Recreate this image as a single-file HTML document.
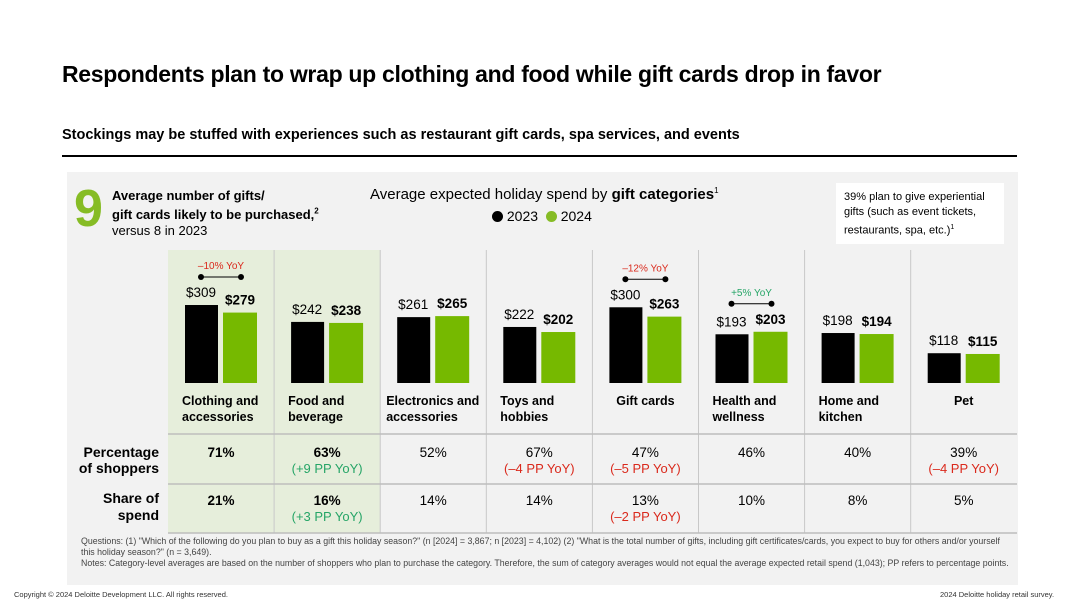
<!DOCTYPE html>
<html><head><meta charset="utf-8"><style>
body{margin:0;width:1080px;height:608px;background:#fff;font-family:"Liberation Sans",sans-serif;position:relative;overflow:hidden;color:#000}
.a{position:absolute;white-space:nowrap}
</style></head><body>
<div class="a" style="left:62px;top:61px;font-size:23px;font-weight:bold;letter-spacing:-0.3px">Respondents plan to wrap up clothing and food while gift cards drop in favor</div>
<div class="a" style="left:62px;top:127px;font-size:14.5px;font-weight:bold">Stockings may be stuffed with experiences such as restaurant gift cards, spa services, and events</div>
<div class="a" style="left:62px;top:155px;width:955px;height:2px;background:#000"></div>
<div class="a" style="left:67px;top:172px;width:951px;height:413px;background:#f2f2f2"></div>
<div class="a" style="left:74px;top:183px;font-size:52px;font-weight:900;color:#86bc25;line-height:52px">9</div>
<div class="a" style="left:112px;top:188px;font-size:13px;line-height:16px"><b>Average number of gifts/<br>gift cards likely to be purchased,<sup style="font-size:8px">2</sup></b><br>versus 8 in 2023</div>
<div class="a" style="left:370px;top:186px;font-size:15px">Average expected holiday spend by <b>gift categories</b><sup style="font-size:8px">1</sup></div>
<div class="a" style="left:492px;top:208px;font-size:14px"><span style="display:inline-block;width:11px;height:11px;border-radius:50%;background:#000;vertical-align:-1px"></span> 2023 &nbsp;<span style="display:inline-block;width:11px;height:11px;border-radius:50%;background:#86bc25;vertical-align:-1px"></span> 2024</div>
<div class="a" style="left:836px;top:183px;width:160px;height:54px;background:#fff;padding:7px 0 0 8px;font-size:11px;line-height:15px;white-space:normal">39% plan to give experiential gifts (such as event tickets, restaurants, spa, etc.)<sup style="font-size:7px">1</sup></div>
<svg class="a" id="chart" style="left:0;top:0" width="1080" height="608"></svg>
<div class="a" style="left:81px;top:536px;font-size:8.8px;line-height:11px;color:#444;white-space:normal;width:930px">Questions: (1) "Which of the following do you plan to buy as a gift this holiday season?" (n [2024] = 3,867; n [2023] = 4,102) (2) "What is the total number of gifts, including gift certificates/cards, you expect to buy for others and/or yourself this holiday season?" (n = 3,649).<br>Notes: Category-level averages are based on the number of shoppers who plan to purchase the category. Therefore, the sum of category averages would not equal the average expected retail spend (1,043); PP refers to percentage points.</div>
<div class="a" style="left:14px;top:590px;font-size:7.5px;color:#333">Copyright © 2024 Deloitte Development LLC. All rights reserved.</div>
<div class="a" style="left:940px;top:590px;font-size:7.5px;color:#333">2024 Deloitte holiday retail survey.</div>
<script>
const categories=[["Clothing and","accessories"],["Food and","beverage"],["Electronics and","accessories"],["Toys and","hobbies"],["Gift cards",""],["Health and","wellness"],["Home and","kitchen"],["Pet",""]];
const spend2023=[309,242,261,222,300,193,198,118];
const spend2024=[279,238,265,202,263,203,194,115];
const shoppers=["71%","63%","52%","67%","47%","46%","40%","39%"];
const shoppersChg=["","(+9 PP YoY)","","(\u20134 PP YoY)","(\u20135 PP YoY)","","","(\u20134 PP YoY)"];
const shareSpend=["21%","16%","14%","14%","13%","10%","8%","5%"];
const shareChg=["","(+3 PP YoY)","","","(\u20132 PP YoY)","","",""];
const yoy=["\u201310% YoY","","","","\u201312% YoY","+5% YoY","",""];
const NS="http://www.w3.org/2000/svg",svg=document.getElementById('chart');
const colX=i=>168+i*106.1, base=383, k=0.2524, y=v=>base-v*k;
function el(t,a,txt){const e=document.createElementNS(NS,t);for(const n in a)e.setAttribute(n,a[n]);if(txt!==undefined)e.textContent=txt;svg.appendChild(e);return e;}
let r=el('rect',{x:168,y:250,width:212,height:283,fill:'#e6eedb'});

for(let i=0;i<=8;i++){if(i==0||i==8)continue;let l=el('line',{x1:colX(i),x2:colX(i),y1:250,y2:533,stroke:'#c8c8c8','stroke-width':1});}
[434,484,533].forEach(yy=>{let l=el('line',{x1:168,x2:1017,y1:yy,y2:yy,stroke:'#bdbdbd','stroke-width':1.5});});
const F='font-family:"Liberation Sans",sans-serif';
categories.forEach((c,i)=>{
 const x0=colX(i),cx=x0+53;
 let b1=el('rect',{x:x0+17,y:y(spend2023[i]),width:33,height:spend2023[i]*k,fill:'#000'});
 
 let b2=el('rect',{x:x0+55,y:y(spend2024[i]),width:34,height:spend2024[i]*k,fill:'#76b900'});
 
 let t1=el('text',{x:x0+33,y:y(spend2023[i])-8,'text-anchor':'middle','font-size':13.5,style:F},'$'+spend2023[i]);
 
 let t2=el('text',{x:x0+72,y:y(spend2024[i])-8,'text-anchor':'middle','font-size':13.5,'font-weight':'bold',style:F},'$'+spend2024[i]);
 
 if(yoy[i]){const top=Math.min(y(spend2023[i]),y(spend2024[i]))-28,col=yoy[i][0]=='+'?'#26a567':'#da291c';
  let g=el('line',{x1:x0+33,x2:x0+73,y1:top,y2:top,stroke:'#000','stroke-width':1});
  el('circle',{cx:x0+33,cy:top,r:3,fill:'#000'});el('circle',{cx:x0+73,cy:top,r:3,fill:'#000'});
  let yt=el('text',{x:x0+53,y:top-8,'text-anchor':'middle','font-size':10,fill:col,style:F},yoy[i]);}
 const lx=c[1]?x0+14:cx, an=c[1]?'start':'middle';
 let c1=el('text',{x:i==2?x0+6:lx,y:405,'text-anchor':an,'font-size':12.5,'font-weight':'bold',style:F},c[0]);
 
 if(c[1])el('text',{x:i==2?x0+6:lx,y:421,'font-size':12.5,'font-weight':'bold',style:F},c[1]);
 const bw=i<2?'bold':'normal';
 let p=el('text',{x:cx,y:457,'text-anchor':'middle','font-size':13.5,'font-weight':bw,style:F},shoppers[i]);
 if(shoppersChg[i])el('text',{x:cx,y:473,'text-anchor':'middle','font-size':13,fill:shoppersChg[i][1]=='+'?'#26a567':'#da291c',style:F},shoppersChg[i]);
 let s=el('text',{x:cx,y:505,'text-anchor':'middle','font-size':13.5,'font-weight':bw,style:F},shareSpend[i]);
 if(shareChg[i])el('text',{x:cx,y:521,'text-anchor':'middle','font-size':13,fill:shareChg[i][1]=='+'?'#26a567':'#da291c',style:F},shareChg[i]);
});
[['Percentage',457],['of shoppers',473],['Share of',503],['spend',520]].forEach(a=>{let t=el('text',{x:159,y:a[1],'text-anchor':'end','font-size':14,'font-weight':'bold',style:F},a[0]);});
</script>
</body></html>
